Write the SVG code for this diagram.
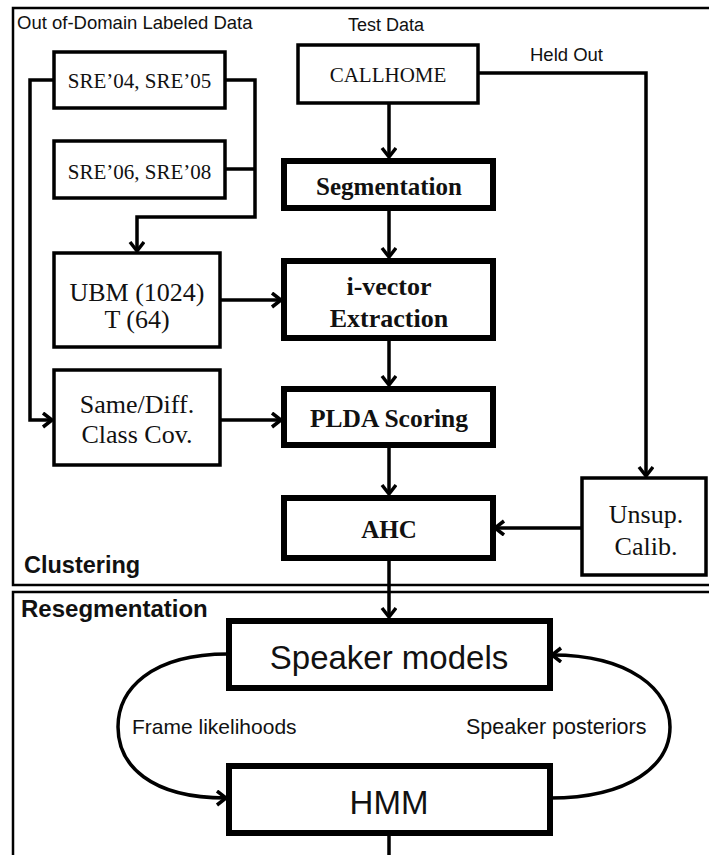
<svg xmlns="http://www.w3.org/2000/svg" width="709" height="855" viewBox="0 0 709 855">
<style>
.frame{fill:none;stroke:#000;stroke-width:2.5}
.thin{fill:#fff;stroke:#000;stroke-width:3.5}
.thick{fill:#fff;stroke:#000;stroke-width:6}
.conn{fill:none;stroke:#000;stroke-width:3.5}
.sans{font-family:"Liberation Sans",Arial,sans-serif;fill:#111}
.serif{font-family:"Liberation Serif","Times New Roman",serif;fill:#111;text-anchor:middle}
.bold{font-weight:bold}
</style>
<defs>
<marker id="ah" markerUnits="userSpaceOnUse" markerWidth="16" markerHeight="18" refX="11" refY="8" orient="auto">
<path d="M2,1 L11,8 L2,15" fill="none" stroke="#000" stroke-width="3.5"/>
</marker>
</defs>
<rect width="709" height="855" fill="#fff"/>
<g id="sections">
<rect class="frame" x="13" y="8" width="710" height="577"/>
<rect class="frame" x="13" y="592" width="710" height="280"/>
<text class="sans" x="17" y="29" font-size="18.5">Out of-Domain Labeled Data</text>
<text class="sans" x="348" y="31" font-size="18">Test Data</text>
<text class="sans" x="530" y="61" font-size="18.5">Held Out</text>
<text class="sans bold" x="24" y="573" font-size="23.5">Clustering</text>
<text class="sans bold" x="21" y="617" font-size="24">Resegmentation</text>
</g>
<g id="connectors">
<path class="conn" d="M225,80 H255 V217 H137 V251" marker-end="url(#ah)"/>
<path class="conn" d="M225,169 H255"/>
<path class="conn" d="M54,80 H30 V420 H52" marker-end="url(#ah)"/>
<path class="conn" d="M220,300 H281" marker-end="url(#ah)"/>
<path class="conn" d="M220,420 H281" marker-end="url(#ah)"/>
<path class="conn" d="M389,103 V157" marker-end="url(#ah)"/>
<path class="conn" d="M389,208 V257" marker-end="url(#ah)"/>
<path class="conn" d="M389,338 V385" marker-end="url(#ah)"/>
<path class="conn" d="M389,445 V494" marker-end="url(#ah)"/>
<path class="conn" d="M478,73 H646 V476" marker-end="url(#ah)"/>
<path class="conn" d="M582,528 H495" marker-end="url(#ah)"/>
<path class="conn" d="M389,558 V617" marker-end="url(#ah)"/>
<path class="conn" d="M389,833 V860"/>
<path class="conn" d="M228,654 C150,654 118,690 118,727 C118,765 150,798 226,798" marker-end="url(#ah)"/>
<path class="conn" d="M550,798 C630,798 670,765 670,727 C670,690 630,655 552,655" marker-end="url(#ah)"/>
<text class="sans" x="132" y="734" font-size="21">Frame likelihoods</text>
<text class="sans" x="466" y="734" font-size="21.5">Speaker posteriors</text>
</g>
<g id="sre0405">
<rect class="thin" x="54" y="52" width="171" height="56"/>
<text class="serif" x="139.5" y="88" font-size="21">SRE’04, SRE’05</text>
</g>
<g id="sre0608">
<rect class="thin" x="54" y="141" width="171" height="57"/>
<text class="serif" x="139.5" y="179" font-size="21">SRE’06, SRE’08</text>
</g>
<g id="ubm">
<rect class="thin" x="54" y="253" width="166" height="94"/>
<text class="serif" x="137" y="301" font-size="26">UBM (1024)</text>
<text class="serif" x="137" y="328" font-size="26">T (64)</text>
</g>
<g id="samediff">
<rect class="thin" x="54" y="370" width="166" height="95"/>
<text class="serif" x="137" y="413" font-size="26">Same/Diff.</text>
<text class="serif" x="137" y="443" font-size="26">Class Cov.</text>
</g>
<g id="callhome">
<rect class="thin" x="298" y="45" width="180" height="58"/>
<text class="serif" x="388" y="82" font-size="21">CALLHOME</text>
</g>
<g id="segmentation">
<rect class="thick" x="284" y="161" width="209" height="47"/>
<text class="serif bold" x="389" y="195" font-size="25">Segmentation</text>
</g>
<g id="ivector">
<rect class="thick" x="284" y="261" width="209" height="77"/>
<text class="serif bold" x="389" y="295" font-size="26">i-vector</text>
<text class="serif bold" x="389" y="327" font-size="26">Extraction</text>
</g>
<g id="plda">
<rect class="thick" x="284" y="389" width="209" height="56"/>
<text class="serif bold" x="389" y="427" font-size="25.5">PLDA Scoring</text>
</g>
<g id="ahc">
<rect class="thick" x="284" y="498" width="209" height="60"/>
<text class="serif bold" x="389" y="538" font-size="25">AHC</text>
</g>
<g id="unsup">
<rect class="thin" x="582" y="478" width="124" height="97"/>
<text class="serif" x="646" y="523" font-size="26">Unsup.</text>
<text class="serif" x="646" y="555" font-size="26">Calib.</text>
</g>
<g id="speakermodels">
<rect class="thick" x="229" y="621" width="321" height="67"/>
<text class="sans" x="389" y="669" font-size="33" text-anchor="middle">Speaker models</text>
</g>
<g id="hmm">
<rect class="thick" x="229" y="766" width="321" height="67"/>
<text class="sans" x="389" y="814" font-size="33" text-anchor="middle">HMM</text>
</g>
</svg>
